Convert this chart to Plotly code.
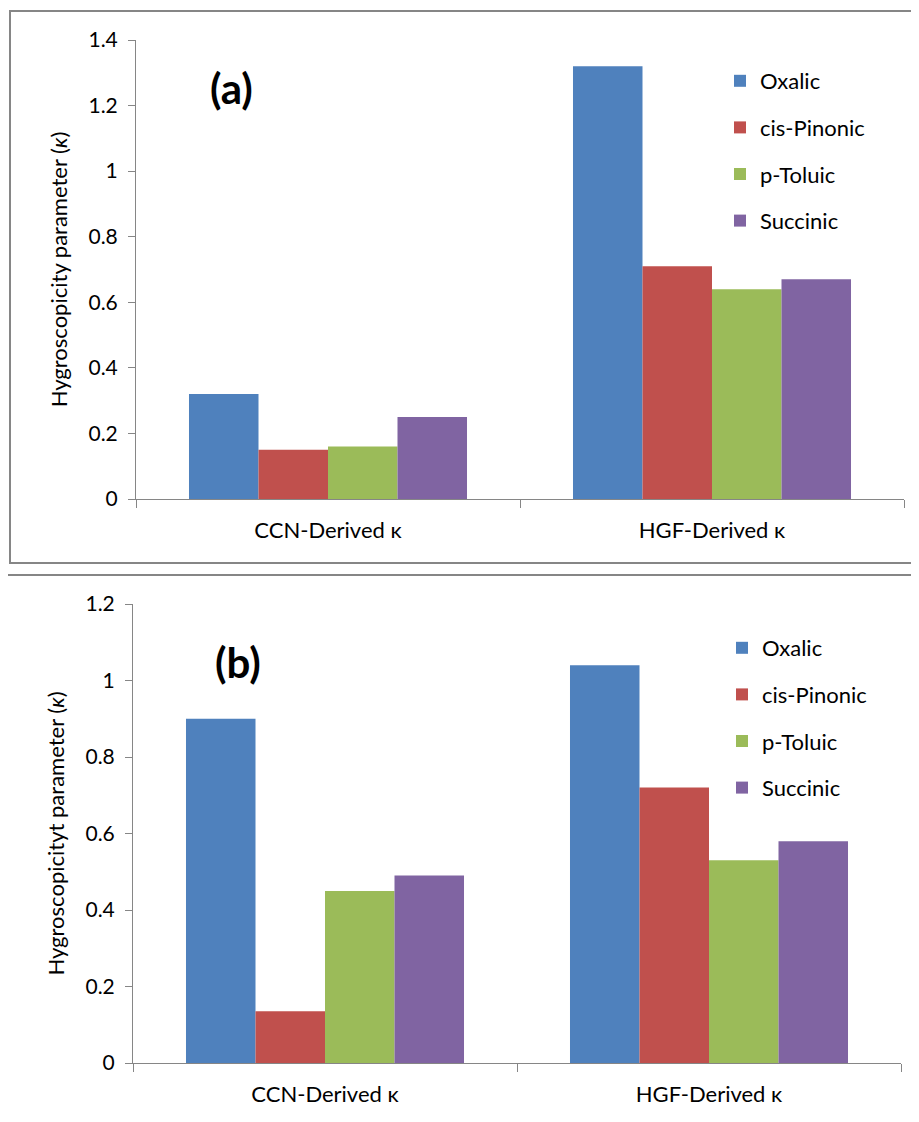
import plotly.graph_objects as go

categories = ["CCN-Derived κ", "HGF-Derived κ"]
series_names = ["Oxalic", "cis-Pinonic", "p-Toluic", "Succinic"]
colors = ["#4F81BD", "#C0504D", "#9BBB59", "#8064A2"]

# Panel (a) values
a_oxalic = [0.32, 1.32]
a_pinonic = [0.15, 0.71]
a_toluic = [0.16, 0.64]
a_succinic = [0.25, 0.67]

# Panel (b) values
b_oxalic = [0.90, 1.04]
b_pinonic = [0.135, 0.72]
b_toluic = [0.45, 0.53]
b_succinic = [0.49, 0.58]

a_vals = [a_oxalic, a_pinonic, a_toluic, a_succinic]
b_vals = [b_oxalic, b_pinonic, b_toluic, b_succinic]

W, H = 919, 1122
OFF = 8  # page body margin
FONT = "Lato, Calibri, Carlito, sans-serif"
AXC = "#868686"

def px(x):
    return (x - OFF) / W

def py(y):
    return 1 - (y - OFF) / H

fig = go.Figure()

for i, name in enumerate(series_names):
    fig.add_trace(go.Bar(
        x=categories, y=a_vals[i], name=name, marker_color=colors[i],
        marker_line_width=0, xaxis="x", yaxis="y", legend="legend",
        legendgroup="a" + name))
for i, name in enumerate(series_names):
    fig.add_trace(go.Bar(
        x=categories, y=b_vals[i], name=name, marker_color=colors[i],
        marker_line_width=0, xaxis="x2", yaxis="y2", legend="legend2",
        legendgroup="b" + name))

common_x = dict(type="category", showline=True, linecolor=AXC, linewidth=1,
                ticks="outside", tickson="boundaries", ticklen=8, tickcolor=AXC,
                showgrid=False, zeroline=False, ticklabelstandoff=12,
                automargin=False,
                tickfont=dict(family=FONT, size=22, color="#000"))
common_y = dict(showline=True, linecolor=AXC, linewidth=1, ticks="outside",
                ticklen=7, tickcolor=AXC, showgrid=False, zeroline=False,
                dtick=0.2, tickfont=dict(family=FONT, size=21, color="#000"),
                ticklabelstandoff=6, automargin=False)

fig.update_layout(
    width=W, height=H,
    margin=dict(l=0, r=0, t=0, b=0, autoexpand=False),
    paper_bgcolor="white", plot_bgcolor="white",
    barmode="group", bargap=0.276, bargroupgap=0,
    font=dict(family=FONT, color="#000"),
    xaxis=dict(domain=[px(136), px(904)], anchor="y", **common_x),
    yaxis=dict(domain=[py(499), py(40)], anchor="x", range=[0, 1.4],
               title=dict(text="Hygroscopicity parameter (<i>κ</i>)",
                          font=dict(family=FONT, size=22), standoff=14),
               **common_y),
    xaxis2=dict(domain=[px(133), px(901)], anchor="y2", **common_x),
    yaxis2=dict(domain=[py(1063), py(604)], anchor="x2", range=[0, 1.2],
                title=dict(text="Hygroscopicityt parameter (<i>κ</i>)",
                           font=dict(family=FONT, size=22), standoff=14),
                **common_y),
    legend=dict(x=px(720), y=py(60), xanchor="left", yanchor="top",
                traceorder="grouped", tracegroupgap=15,
                font=dict(family=FONT, size=22), bgcolor="rgba(0,0,0,0)"),
    legend2=dict(x=px(722), y=py(627), xanchor="left", yanchor="top",
                 traceorder="grouped", tracegroupgap=15,
                 font=dict(family=FONT, size=22), bgcolor="rgba(0,0,0,0)"),
    showlegend=True,
)

fig.add_annotation(text="<b>(a)</b>", x=px(231), y=py(88), xref="paper", yref="paper",
                   xanchor="center", yanchor="middle", showarrow=False,
                   font=dict(family=FONT, size=42, color="#000"))
fig.add_annotation(text="<b>(b)</b>", x=px(238), y=py(662), xref="paper", yref="paper",
                   xanchor="center", yanchor="middle", showarrow=False,
                   font=dict(family=FONT, size=42, color="#000"))

# panel borders
border = dict(color=AXC, width=2)
fig.add_shape(type="rect", xref="paper", yref="paper",
              x0=px(10), x1=px(940), y0=py(563), y1=py(11), line=border)
fig.add_shape(type="rect", xref="paper", yref="paper",
              x0=px(7), x1=px(940), y0=py(1145), y1=py(575), line=border)

fig.write_html("out.html")
